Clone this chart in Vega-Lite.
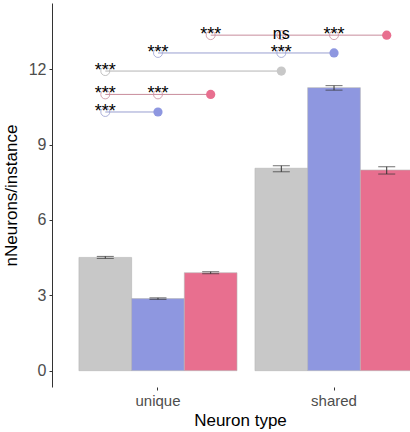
{
  "$schema": "https://vega.github.io/schema/vega-lite/v6.json",
  "autosize": {"type": "none"},
  "width": 358,
  "height": 384,
  "padding": {"left": 52, "top": 3, "right": 0, "bottom": 45},
  "background": "white",
  "config": {
    "font": "Liberation Sans",
    "view": {"stroke": null}
  },
  "resolve": {"scale": {"color": "independent"}},
  "datasets": {
    "bars": [
      {"type": "unique", "group": "A", "mean": 4.51, "lo": 4.47, "hi": 4.55},
      {"type": "unique", "group": "B", "mean": 2.87, "lo": 2.84, "hi": 2.90},
      {"type": "unique", "group": "C", "mean": 3.90, "lo": 3.86, "hi": 3.94},
      {"type": "shared", "group": "A", "mean": 8.06, "lo": 7.92, "hi": 8.16},
      {"type": "shared", "group": "B", "mean": 11.27, "lo": 11.17, "hi": 11.35},
      {"type": "shared", "group": "C", "mean": 7.99, "lo": 7.83, "hi": 8.12}
    ],
    "sig": [
      {"row": 1, "level": 13.36, "type": "shared", "group": "C", "ref": "C", "role": "ref", "label": ""},
      {"row": 1, "level": 13.36, "type": "unique", "group": "C", "ref": "C", "role": "cmp", "label": "***"},
      {"row": 1, "level": 13.36, "type": "shared", "group": "A", "ref": "C", "role": "cmp", "label": "ns"},
      {"row": 1, "level": 13.36, "type": "shared", "group": "B", "ref": "C", "role": "cmp", "label": "***"},
      {"row": 2, "level": 12.65, "type": "shared", "group": "B", "ref": "B", "role": "ref", "label": ""},
      {"row": 2, "level": 12.65, "type": "unique", "group": "B", "ref": "B", "role": "cmp", "label": "***"},
      {"row": 2, "level": 12.65, "type": "shared", "group": "A", "ref": "B", "role": "cmp", "label": "***"},
      {"row": 3, "level": 11.93, "type": "shared", "group": "A", "ref": "A", "role": "ref", "label": ""},
      {"row": 3, "level": 11.93, "type": "unique", "group": "A", "ref": "A", "role": "cmp", "label": "***"},
      {"row": 4, "level": 11.0, "type": "unique", "group": "C", "ref": "C", "role": "ref", "label": ""},
      {"row": 4, "level": 11.0, "type": "unique", "group": "A", "ref": "C", "role": "cmp", "label": "***"},
      {"row": 4, "level": 11.0, "type": "unique", "group": "B", "ref": "C", "role": "cmp", "label": "***"},
      {"row": 5, "level": 10.3, "type": "unique", "group": "B", "ref": "B", "role": "ref", "label": ""},
      {"row": 5, "level": 10.3, "type": "unique", "group": "A", "ref": "B", "role": "cmp", "label": "***"}
    ]
  },
  "encoding": {
    "x": {
      "field": "type",
      "type": "nominal",
      "sort": ["unique", "shared"],
      "scale": {"domain": ["unique", "shared"], "range": [0, 388], "paddingInner": 0.102, "paddingOuter": 0.153},
      "axis": {
        "title": "Neuron type",
        "titleFontSize": 17,
        "titleFontWeight": "normal",
        "titleColor": "black",
        "titleX": 188,
        "titlePadding": 4,
        "labelAngle": 0,
        "labelFontSize": 15,
        "labelColor": "#4d4d4d",
        "labelPadding": 3,
        "domain": false,
        "ticks": true,
        "tickSize": 3,
        "tickColor": "#333333",
        "grid": false
      }
    },
    "xOffset": {
      "field": "group",
      "type": "nominal",
      "scale": {"domain": ["A", "B", "C"], "paddingInner": 0, "paddingOuter": 0}
    }
  },
  "layer": [
    {
      "data": {"name": "bars"},
      "mark": {"type": "bar", "stroke": "#b5b5b5", "strokeWidth": 0.6},
      "encoding": {
        "y": {
          "field": "mean",
          "type": "quantitative",
          "scale": {"domain": [-0.65, 14.64], "nice": false, "zero": false},
          "axis": {
            "title": "nNeurons/instance",
            "titleFontSize": 17,
            "titleFontWeight": "normal",
            "titleColor": "black",
            "titlePadding": 8,
            "values": [0, 3, 6, 9, 12],
            "labelFontSize": 16,
            "labelColor": "#4d4d4d",
            "labelPadding": 3,
            "tickSize": 3,
            "tickColor": "#333333",
            "domainColor": "#333333",
            "grid": false
          }
        },
        "color": {
          "field": "group",
          "type": "nominal",
          "scale": {"domain": ["A", "B", "C"], "range": ["#c8c8c8", "#8e97e0", "#e86f8f"]},
          "legend": null
        }
      }
    },
    {
      "data": {"name": "bars"},
      "mark": {"type": "rule", "color": "#333333", "strokeWidth": 1},
      "encoding": {
        "y": {"field": "lo", "type": "quantitative"},
        "y2": {"field": "hi"}
      }
    },
    {
      "data": {"name": "bars"},
      "mark": {"type": "tick", "color": "#333333", "thickness": 1, "size": 17, "orient": "horizontal"},
      "encoding": {"y": {"field": "lo", "type": "quantitative"}}
    },
    {
      "data": {"name": "bars"},
      "mark": {"type": "tick", "color": "#333333", "thickness": 1, "size": 17, "orient": "horizontal"},
      "encoding": {"y": {"field": "hi", "type": "quantitative"}}
    },
    {
      "data": {"name": "sig"},
      "mark": {"type": "line", "strokeWidth": 1},
      "encoding": {
        "y": {"field": "level", "type": "quantitative"},
        "detail": {"field": "row", "type": "nominal"},
        "color": {
          "field": "ref",
          "type": "nominal",
          "scale": {"domain": ["A", "B", "C"], "range": ["#b4b4b4", "#999fd0", "#c88c9c"]},
          "legend": null
        }
      }
    },
    {
      "data": {"name": "sig"},
      "transform": [{"filter": "datum.role === 'cmp'"}],
      "mark": {"type": "point", "filled": false, "size": 80, "strokeWidth": 0.8, "opacity": 1},
      "encoding": {
        "y": {"field": "level", "type": "quantitative"},
        "color": {
          "field": "ref",
          "type": "nominal",
          "scale": {"domain": ["A", "B", "C"], "range": ["#b4b4b4", "#999fd0", "#c88c9c"]},
          "legend": null
        }
      }
    },
    {
      "data": {"name": "sig"},
      "transform": [{"filter": "datum.role === 'ref'"}],
      "mark": {"type": "point", "filled": true, "size": 85, "opacity": 1},
      "encoding": {
        "y": {"field": "level", "type": "quantitative"},
        "color": {
          "field": "ref",
          "type": "nominal",
          "scale": {"domain": ["A", "B", "C"], "range": ["#c8c8c8", "#8e97e0", "#e86f8f"]},
          "legend": null
        }
      }
    },
    {
      "data": {"name": "sig"},
      "transform": [{"filter": "datum.label === '***'"}],
      "mark": {"type": "text", "fontSize": 18, "baseline": "alphabetic", "dy": 5, "color": "black"},
      "encoding": {
        "y": {"field": "level", "type": "quantitative"},
        "text": {"field": "label"}
      }
    },
    {
      "data": {"name": "sig"},
      "transform": [{"filter": "datum.label === 'ns'"}],
      "mark": {"type": "text", "fontSize": 16, "baseline": "alphabetic", "dy": 4, "color": "black"},
      "encoding": {
        "y": {"field": "level", "type": "quantitative"},
        "text": {"field": "label"}
      }
    }
  ]
}
